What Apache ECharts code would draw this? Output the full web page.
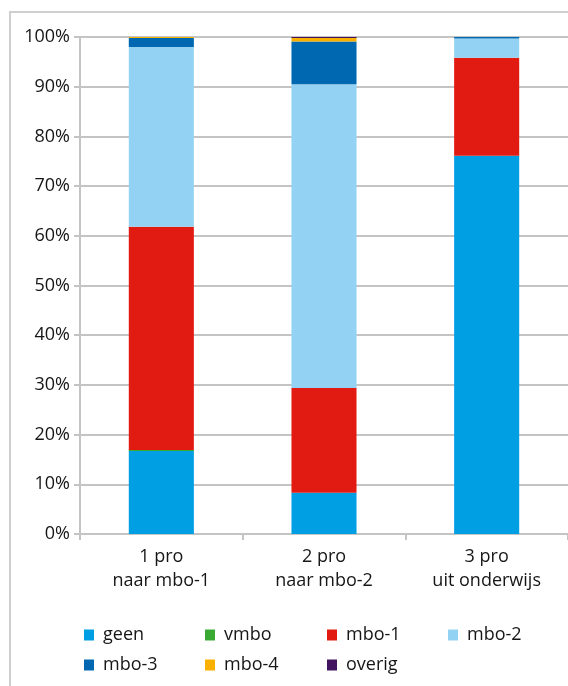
<!DOCTYPE html>
<html>
<head>
<meta charset="utf-8">
<script src="https://cdn.jsdelivr.net/npm/echarts@6/dist/echarts.min.js"></script>
<style>
html,body{margin:0;padding:0;background:#fff;}
#chart{width:568px;height:686px;}
</style>
</head>
<body>
<div id="chart"></div>
<script>
const categories = ['1 pro\nnaar mbo-1', '2 pro\nnaar mbo-2', '3 pro\nuit onderwijs'];
const seriesNames = ['geen', 'vmbo', 'mbo-1', 'mbo-2', 'mbo-3', 'mbo-4', 'overig'];
const geen   = [16.7, 8.3, 76.1];
const vmbo   = [0.2, 0, 0];
const mbo1   = [44.9, 21.1, 19.7];
const mbo2   = [36.2, 61.1, 3.9];
const mbo3   = [1.8, 8.6, 0.3];
const mbo4   = [0.2, 0.7, 0];
const overig = [0, 0.2, 0];
const yTicks = [0, 10, 20, 30, 40, 50, 60, 70, 80, 90, 100];

const values = [geen, vmbo, mbo1, mbo2, mbo3, mbo4, overig];
const colors = ['#009FE3', '#3AAA35', '#E21B12', '#94D2F3', '#0068B1', '#F9B000', '#42145F'];
const FONT = '"Open Sans", "Noto Sans", sans-serif';
const TEXT = '#161616';
const GRID = '#c4c4c4';

const legendPos = [
  [84, 625], [205, 625], [327, 625], [448, 625],
  [84, 655], [205, 655], [327, 655]
];

const chart = echarts.init(document.getElementById('chart'), null, {renderer: 'canvas'});
chart.setOption({
  animation: false,
  backgroundColor: '#fff',
  color: colors,
  graphic: [{
    type: 'rect',
    z: -10,
    shape: {x: 10, y: 12, width: 700, height: 800},
    style: {fill: 'none', stroke: '#cfcfcf', lineWidth: 2}
  }],
  grid: {left: 80, top: 37, width: 490, height: 497, containLabel: false},
  legend: seriesNames.map((n, i) => ({
    data: [n],
    left: legendPos[i][0],
    top: legendPos[i][1],
    padding: 0,
    icon: 'rect',
    itemWidth: 10,
    itemHeight: 11,
    selectedMode: false,
    textStyle: {fontFamily: FONT, fontSize: 18, color: TEXT, lineHeight: 20, padding: [0, 0, 0, 4]}
  })),
  xAxis: {
    type: 'category',
    data: categories,
    axisLine: {show: true, lineStyle: {color: GRID, width: 2}},
    axisTick: {show: true, length: 6, lineStyle: {color: GRID, width: 2}},
    axisLabel: {fontFamily: FONT, fontSize: 18, color: TEXT, lineHeight: 24, margin: 11}
  },
  yAxis: {
    type: 'value',
    min: yTicks[0],
    max: yTicks[yTicks.length - 1],
    interval: yTicks[1] - yTicks[0],
    axisLine: {show: true, lineStyle: {color: GRID, width: 2}},
    axisTick: {show: true, length: 6, lineStyle: {color: GRID, width: 2}},
    splitLine: {show: true, lineStyle: {color: GRID, width: 2}},
    axisLabel: {fontFamily: FONT, fontSize: 18, color: TEXT, margin: 10, formatter: '{value}%', padding: [5, 0, 0, 0]}
  },
  series: seriesNames.map((n, i) => ({
    name: n,
    type: 'bar',
    stack: 'total',
    barWidth: '40%',
    data: values[i],
    itemStyle: {color: colors[i]}
  }))
});
</script>
</body>
</html>
